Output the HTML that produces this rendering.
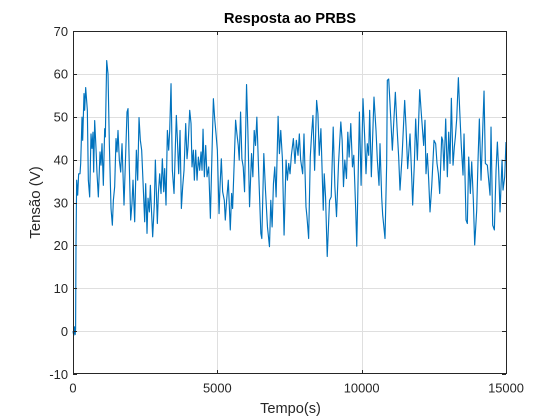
<!DOCTYPE html>
<html>
<head>
<meta charset="utf-8">
<style>
html,body{margin:0;padding:0;background:#fff;}
svg{display:block;font-family:"Liberation Sans",Arial,sans-serif;}
</style>
</head>
<body>
<svg id="chart" width="560" height="420" viewBox="0 0 560 420" xmlns="http://www.w3.org/2000/svg">
<rect x="0" y="0" width="560" height="420" fill="#ffffff"/>
<g id="grid"></g>
<g id="series"></g>
<g id="axes"></g>
<text x="290" y="23" text-anchor="middle" font-size="14.7" font-weight="bold" fill="#000">Resposta ao PRBS</text>
<text x="290.5" y="413" text-anchor="middle" font-size="14.6" fill="#262626">Tempo(s)</text>
<text x="0" y="0" transform="translate(40 202.5) rotate(-90)" text-anchor="middle" font-size="15" fill="#262626">Tensão (V)</text>
</svg>
<script>
const xTicks = [0, 5000, 10000, 15000];
const yTicks = [-10, 0, 10, 20, 30, 40, 50, 60, 70];
const timeValues = [0,25,50,75,90,104,127,162,196,243,266,312,335,381,404,439,497,531,578,624,658,693,716,751,797,832,878,936,970,1005,1051,1097,1120,1167,1213,1259,1317,1363,1398,1444,1490,1525,1559,1605,1652,1698,1767,1836,1871,1906,1940,1998,2044,2079,2137,2195,2241,2287,2333,2379,2426,2483,2518,2564,2599,2645,2680,2760,2818,2853,2922,2957,3003,3049,3095,3142,3176,3222,3269,3315,3350,3396,3442,3500,3546,3580,3615,3661,3708,3754,3800,3846,3904,3950,3985,4043,4089,4123,4170,4204,4250,4297,4343,4389,4435,4470,4505,4551,4597,4643,4701,4759,4816,4863,4909,4955,5001,5059,5092,5138,5184,5242,5276,5322,5380,5449,5495,5529,5587,5633,5679,5725,5759,5805,5851,5897,5943,6012,6058,6116,6185,6231,6277,6323,6369,6438,6507,6541,6610,6668,6737,6806,6852,6898,6944,6990,7036,7105,7151,7197,7254,7312,7381,7427,7473,7519,7565,7634,7691,7737,7795,7841,7887,7956,8002,8071,8105,8163,8220,8266,8312,8370,8439,8485,8531,8588,8669,8703,8749,8807,8887,8945,9014,9071,9129,9198,9278,9324,9370,9416,9474,9520,9566,9623,9681,9727,9796,9830,9922,9980,10046,10104,10150,10196,10243,10277,10335,10427,10497,10543,10601,10635,10693,10728,10809,10866,10889,10936,10982,11063,11109,11167,11224,11282,11328,11398,11490,11536,11594,11675,11733,11767,11825,11871,11929,12010,12067,12148,12194,12229,12275,12322,12368,12426,12506,12564,12610,12657,12703,12772,12807,12853,12911,12968,13015,13061,13107,13165,13211,13246,13292,13350,13396,13453,13511,13546,13615,13661,13708,13765,13812,13869,13915,13985,14031,14077,14135,14193,14239,14285,14354,14447,14481,14539,14597,14655,14701,14747,14793,14863,14897,14955,15000];
const voltageValues = [0,-1,1,-0.8,0.5,20.5,35.2,31.7,36.7,36.7,39.1,49.9,44.5,55.4,51.5,56.8,51.5,35.2,31.3,46,42.6,46.4,37.1,49.1,42.6,36.7,31.3,41.8,38.7,43.7,34,47.2,45.3,63.1,60,43.7,28.6,24.7,30.5,33.7,44.9,41.8,46.8,39.9,37.1,43.7,29.4,43.7,51.1,51.9,41.4,25.9,29.8,35.2,25.5,42.2,35.2,49.8,44.5,42.2,34.8,25.5,34.4,22.8,31,27.8,34,22,29.8,39.9,25.1,32.1,36.7,32.1,40.2,32.5,37.9,29.4,46.8,42.2,46.8,57.7,37.5,32.1,43,50.3,44.9,36.7,46.8,28.6,33.7,37.5,48.4,40.2,43,51.5,48.4,38.3,42.2,35.2,42.2,35.2,40.6,37.5,41.8,37.5,47.1,36,43.3,36,38.3,26.3,41.8,54.2,49.5,46,42.2,27.4,33.6,40.2,32.5,30.5,25.9,30.5,35.2,23.6,32.1,28.6,39.9,49.2,46,43.3,39.9,51.1,40.2,38.3,32.5,57.5,46.8,29,41.4,36,46.8,43.3,49.9,36,22.8,21.6,41.4,32.9,24.3,19.7,30.5,24.3,34.4,38.3,31.3,50.1,41.4,46.8,40.2,22.4,39.9,35.2,39.1,36.7,41,44.9,39.1,44.5,41,46,39.9,36.7,46,29,26.7,21.6,40.6,46,50.3,37.5,53.8,50.7,41,47.2,28.2,36.7,31.3,17.4,30.5,31.3,47.6,33.7,26.7,39.1,48.8,44.5,33.7,39.9,35.6,46.4,40.6,48.4,38.3,41,27.8,19.8,51.1,34,54.2,45.3,36.7,43.7,41,51.5,36,54.6,46.8,39.9,34,43.7,31.3,27.1,21.6,39.1,58.5,58.8,53,42.2,48.4,55.7,47.6,40.6,32.9,40.6,53.8,47.6,37.9,46,36,29.4,39.1,49.5,39.9,56.3,50.7,43.3,49.2,36.7,41.4,35.2,27.8,33.7,44.5,43.7,39.1,36.7,32.1,45.3,44.5,37.5,49.5,36,46.4,39.1,54.3,38.7,43,45.3,49.5,59.1,51.5,43,36.4,46,25.9,25.1,40.6,32.1,39.5,30.5,20.1,28.2,39.9,49.5,35.2,46.8,56,39.1,38.7,31.7,47.6,24.7,23.6,37.5,44.1,37.5,27.8,39.9,32.9,36,44.1];

const plotLeft = 73, plotRight = 506, plotTop = 31, plotBottom = 374;
const xMin = xTicks[0], xMax = xTicks[xTicks.length - 1];
const yMin = yTicks[0], yMax = yTicks[yTicks.length - 1];
const xScale = v => plotLeft + (v - xMin) / (xMax - xMin) * (plotRight - plotLeft);
const yScale = v => plotBottom - (v - yMin) / (yMax - yMin) * (plotBottom - plotTop);
const NS = 'http://www.w3.org/2000/svg';
const gridGroup = document.getElementById('grid');
const seriesGroup = document.getElementById('series');
const axesGroup = document.getElementById('axes');

function makeLine(x1, y1, x2, y2, color, width) {
  const el = document.createElementNS(NS, 'line');
  el.setAttribute('x1', x1);
  el.setAttribute('y1', y1);
  el.setAttribute('x2', x2);
  el.setAttribute('y2', y2);
  el.setAttribute('stroke', color);
  el.setAttribute('stroke-width', width);
  return el;
}
function makeLabel(x, y, anchor, content) {
  const el = document.createElementNS(NS, 'text');
  el.setAttribute('x', x);
  el.setAttribute('y', y);
  el.setAttribute('text-anchor', anchor);
  el.setAttribute('font-size', '12.9');
  el.setAttribute('fill', '#262626');
  el.textContent = content;
  return el;
}

xTicks.forEach(t => {
  const x = Math.round(xScale(t)) + 0.5;
  if (t !== xMin && t !== xMax) {
    const g = makeLine(x, plotTop, x, plotBottom, '#dfdfdf', 1);
    
    
    gridGroup.appendChild(g);
  }
  const a = makeLine(x, plotBottom, x, plotBottom - 4, '#262626', 1);
  
  
  axesGroup.appendChild(a);
  const b = makeLine(x, plotTop, x, plotTop + 4, '#262626', 1);
  
  
  axesGroup.appendChild(b);
  const l = makeLabel(xScale(t), plotBottom + 18.5, 'middle', String(t));
  
  
  axesGroup.appendChild(l);
});

yTicks.forEach(v => {
  const y = Math.round(yScale(v)) + 0.5;
  if (v !== yMin && v !== yMax) {
    const g = makeLine(plotLeft, y, plotRight, y, '#dfdfdf', 1);
    
    
    gridGroup.appendChild(g);
  }
  const a = makeLine(plotLeft, y, plotLeft + 4, y, '#262626', 1);
  
  
  axesGroup.appendChild(a);
  const b = makeLine(plotRight, y, plotRight - 4, y, '#262626', 1);
  
  
  axesGroup.appendChild(b);
  const l = makeLabel(plotLeft - 5, yScale(v) + 4.8, 'end', String(v));
  
  
  axesGroup.appendChild(l);
});

const seriesPath = document.createElementNS(NS, 'polyline');


seriesPath.setAttribute('fill', 'none');
seriesPath.setAttribute('stroke', '#0072BD');
seriesPath.setAttribute('stroke-width', '1.15');
seriesPath.setAttribute('stroke-linejoin', 'round');
seriesPath.setAttribute('points', timeValues.map((t, i) => xScale(t).toFixed(2) + ',' + yScale(voltageValues[i]).toFixed(2)).join(' '));
seriesGroup.appendChild(seriesPath);

const frame = document.createElementNS(NS, 'rect');


frame.setAttribute('x', plotLeft + 0.5);
frame.setAttribute('y', plotTop + 0.5);
frame.setAttribute('width', plotRight - plotLeft);
frame.setAttribute('height', plotBottom - plotTop - 1);
frame.setAttribute('fill', 'none');
frame.setAttribute('stroke', '#262626');
frame.setAttribute('stroke-width', '1');
axesGroup.appendChild(frame);
</script>
</body>
</html>
